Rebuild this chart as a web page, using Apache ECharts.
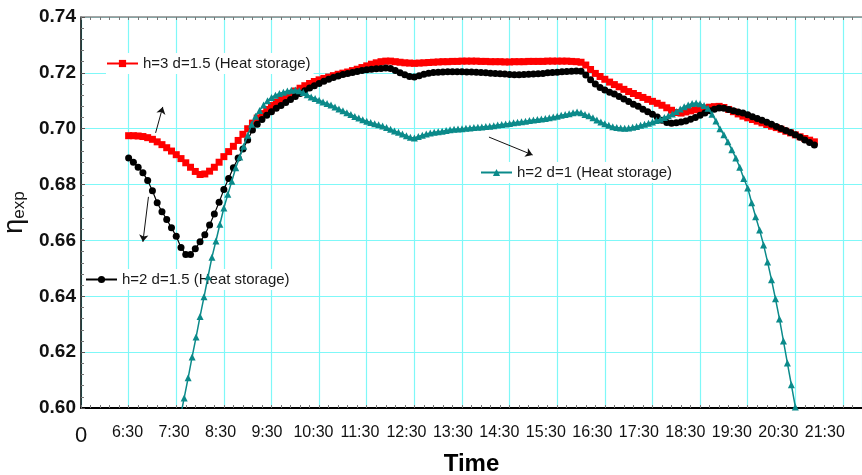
<!DOCTYPE html>
<html>
<head>
<meta charset="utf-8">
<title>eta exp vs time</title>
<script src="https://cdn.jsdelivr.net/npm/echarts@6/dist/echarts.min.js"></script>
<style>
  html, body { margin: 0; padding: 0; background: #fff; }
  #chart { width: 862px; height: 475px; }
</style>
</head>
<body>
<div id="chart"></div>
<script>
// x values are minutes after 5:30 (the axis origin, labelled "0")
const TIME_LABELS = ['0', '6:30', '7:30', '8:30', '9:30', '10:30', '11:30', '12:30', '13:30',
  '14:30', '15:30', '16:30', '17:30', '18:30', '19:30', '20:30', '21:30'];
const Y_TICKS = [0.60, 0.62, 0.64, 0.66, 0.68, 0.70, 0.72, 0.74];

const NAME_RED = 'h=3 d=1.5 (Heat storage)';
const NAME_BLACK = 'h=2 d=1.5 (Heat storage)';
const NAME_TEAL = 'h=2 d=1 (Heat storage)';

// red + black sampled every 6 min from 6:30, teal every 5 min from 7:35
const RED_START = 60, RED_STEP = 6;
const BLACK_START = 60, BLACK_STEP = 6;
const TEAL_START = 125, TEAL_STEP = 5;

const redVals = [0.6975,0.6975,0.6974,0.6972,0.6968,0.6962,0.6953,0.6943,0.6932,0.6920,
  0.6907,0.6893,0.6878,0.6862,0.6847,0.6836,0.6838,0.6848,0.6862,0.6880,
  0.6900,0.6918,0.6937,0.6958,0.6980,0.7000,0.7020,0.7038,0.7054,0.7069,
  0.7083,0.7095,0.7105,0.7115,0.7125,0.7135,0.7145,0.7154,0.7162,0.7169,
  0.7175,0.7180,0.7185,0.7190,0.7195,0.7199,0.7203,0.7208,0.7213,0.7219,
  0.7225,0.7231,0.7236,0.7240,0.7242,0.7242,0.7240,0.7238,0.7236,0.7235,
  0.7234,0.7235,0.7236,0.7237,0.7238,0.7239,0.7240,0.7240,0.7241,0.7241,
  0.7242,0.7242,0.7242,0.7242,0.7241,0.7241,0.7240,0.7240,0.7240,0.7239,
  0.7239,0.7240,0.7240,0.7240,0.7241,0.7241,0.7241,0.7241,0.7242,0.7242,
  0.7242,0.7242,0.7242,0.7241,0.7240,0.7238,0.7228,0.7212,0.7198,0.7187,
  0.7177,0.7167,0.7158,0.7150,0.7141,0.7133,0.7126,0.7119,0.7112,0.7105,
  0.7098,0.7091,0.7084,0.7075,0.7066,0.7058,0.7056,0.7060,0.7064,0.7068,
  0.7071,0.7074,0.7077,0.7079,0.7080,0.7076,0.7069,0.7061,0.7053,0.7045,
  0.7039,0.7033,0.7027,0.7021,0.7015,0.7009,0.7004,0.6998,0.6991,0.6985,
  0.6978,0.6971,0.6965,0.6959,0.6953];

const blackVals = [0.6895,0.6880,0.6862,0.6842,0.6815,0.6778,0.6735,0.6703,0.6675,0.6645,
  0.6615,0.6575,0.6550,0.6550,0.6570,0.6595,0.6620,0.6655,0.6695,0.6737,
  0.6782,0.6822,0.6860,0.6895,0.6927,0.6960,0.6995,0.7016,0.7033,0.7048,
  0.7061,0.7073,0.7083,0.7094,0.7105,0.7115,0.7126,0.7136,0.7146,0.7154,
  0.7162,0.7170,0.7177,0.7183,0.7189,0.7194,0.7198,0.7201,0.7205,0.7208,
  0.7211,0.7213,0.7215,0.7216,0.7217,0.7216,0.7208,0.7200,0.7193,0.7187,
  0.7185,0.7190,0.7195,0.7199,0.7201,0.7202,0.7203,0.7204,0.7204,0.7204,
  0.7204,0.7203,0.7203,0.7202,0.7201,0.7200,0.7199,0.7198,0.7197,0.7196,
  0.7194,0.7193,0.7193,0.7194,0.7195,0.7196,0.7197,0.7198,0.7200,0.7201,
  0.7202,0.7204,0.7205,0.7206,0.7207,0.7206,0.7192,0.7175,0.7160,0.7148,
  0.7139,0.7131,0.7124,0.7115,0.7106,0.7097,0.7088,0.7080,0.7070,0.7061,
  0.7052,0.7042,0.7030,0.7022,0.7020,0.7021,0.7024,0.7028,0.7034,0.7040,
  0.7048,0.7056,0.7064,0.7070,0.7074,0.7073,0.7069,0.7064,0.7060,0.7056,
  0.7050,0.7043,0.7037,0.7030,0.7023,0.7016,0.7008,0.7001,0.6994,0.6986,
  0.6978,0.6969,0.6960,0.6951,0.6942];

const tealVals = [0.5965,0.6036,0.6108,0.6183,0.6254,0.6328,0.6398,0.6470,0.6540,0.6598,
  0.6658,0.6716,0.6765,0.6812,0.6860,0.6899,0.6937,0.6977,0.7016,0.7045,
  0.7065,0.7085,0.7100,0.7112,0.7120,0.7126,0.7131,0.7135,0.7138,0.7139,
  0.7136,0.7130,0.7122,0.7114,0.7108,0.7102,0.7096,0.7090,0.7085,0.7078,
  0.7071,0.7064,0.7057,0.7051,0.7044,0.7038,0.7032,0.7027,0.7022,0.7018,
  0.7014,0.7010,0.7004,0.6998,0.6992,0.6987,0.6981,0.6975,0.6969,0.6967,
  0.6972,0.6977,0.6981,0.6985,0.6987,0.6989,0.6991,0.6994,0.6996,0.6998,
  0.6999,0.7000,0.7002,0.7003,0.7004,0.7005,0.7006,0.7008,0.7009,0.7011,
  0.7013,0.7015,0.7017,0.7019,0.7021,0.7023,0.7025,0.7027,0.7029,0.7031,
  0.7033,0.7035,0.7037,0.7039,0.7042,0.7045,0.7048,0.7051,0.7054,0.7057,
  0.7060,0.7057,0.7051,0.7046,0.7039,0.7031,0.7024,0.7018,0.7012,0.7007,
  0.7004,0.7003,0.7002,0.7003,0.7005,0.7008,0.7012,0.7016,0.7020,0.7024,
  0.7029,0.7034,0.7040,0.7046,0.7053,0.7062,0.7071,0.7079,0.7085,0.7090,
  0.7092,0.7089,0.7083,0.7073,0.7052,0.7028,0.7000,0.6978,0.6953,0.6925,
  0.6895,0.6862,0.6822,0.6788,0.6735,0.6685,0.6637,0.6584,0.6523,0.6459,
  0.6391,0.6319,0.6240,0.6161,0.6083,0.6004];

// annotation arrows [x1, y1, x2, y2] in axis units
const ARROW_RED = [94, 0.6985, 103, 0.7078];
const ARROW_BLACK = [85, 0.6756, 78, 0.6595];
const ARROW_TEAL = [514, 0.6970, 569, 0.6906];

const FONT = "'Liberation Sans', Arial, sans-serif";
const GRID_CYAN = '#7ff8f8';

function pairs(vals, start, step) {
  return vals.map((v, i) => [start + i * step, v]);
}

function arrow(a) {
  return {
    silent: true,
    symbol: ['none', 'arrow'],
    symbolSize: 7,
    lineStyle: { color: '#111', width: 1, type: 'solid' },
    label: { show: false },
    emphasis: { disabled: true },
    data: [[{ coord: [a[0], a[1]] }, { coord: [a[2], a[3]] }]]
  };
}

function legendAt(name, left, top) {
  return {
    data: [name],
    left: left,
    top: top,
    orient: 'horizontal',
    itemWidth: 31,
    itemHeight: 9,
    padding: [3, 3, 3, 0],
    backgroundColor: '#fff',
    z: 1,
    selectedMode: false,
    textStyle: { fontFamily: FONT, fontSize: 15, color: '#1a1a1a' }
  };
}

const chart = echarts.init(document.getElementById('chart'), null, { renderer: 'canvas' });

const option = {
  animation: false,
  backgroundColor: '#fff',
  grid: { left: 81, right: 0, top: 17, bottom: 67, containLabel: false, outerBoundsMode: 'none' },
  legend: [
    legendAt(NAME_RED, 106, 53),
    legendAt(NAME_BLACK, 85, 269),
    legendAt(NAME_TEAL, 480, 162)
  ],
  xAxis: [
    { // ticks + grid
      type: 'value', position: 'bottom', min: 0, max: 984, interval: 60,
      axisLine: { onZero: false, lineStyle: { color: '#000', width: 2 } },
      axisTick: { inside: true, length: 3, lineStyle: { color: '#777' } },
      minorTick: { show: true, splitNumber: 5, length: 3, lineStyle: { color: '#777' } },
      splitLine: { show: true, lineStyle: { color: GRID_CYAN, width: 1.2 } },
      axisLabel: { show: false }
    },
    { // tick labels (slightly tighter spacing than the grid in the original)
      type: 'value', position: 'bottom', min: 0, max: 1008, interval: 60,
      axisLine: { show: false }, axisTick: { show: false }, splitLine: { show: false },
      axisLabel: {
        margin: 17,
        fontFamily: FONT, fontSize: 16, color: '#111',
        formatter: v => {
          const s = TIME_LABELS[Math.round(v / 60)];
          return v === 0 ? '{z|' + s + '}' : (s || '');
        },
        rich: { z: { fontFamily: FONT, fontSize: 22, color: '#111' } }
      },
      name: 'Time', nameLocation: 'middle', nameGap: 43,
      nameTextStyle: { fontFamily: FONT, fontSize: 24, fontWeight: 'bold', color: '#000' }
    },
    { // top frame
      type: 'value', position: 'top', min: 0, max: 984, interval: 60,
      axisLine: { onZero: false, lineStyle: { color: '#888', width: 1.5 } },
      axisTick: { inside: true, length: 3, lineStyle: { color: '#777' } },
      minorTick: { show: true, splitNumber: 5, length: 3, lineStyle: { color: '#777' } },
      splitLine: { show: false }, axisLabel: { show: false }
    }
  ],
  yAxis: {
    type: 'value', min: Y_TICKS[0], max: Y_TICKS[Y_TICKS.length - 1], interval: 0.02,
    axisLine: { show: true, onZero: false, lineStyle: { color: '#000', width: 1.5 } },
    axisTick: { inside: true, length: 4, lineStyle: { color: '#555' } },
    minorTick: { show: true, splitNumber: 5, length: 3, lineStyle: { color: '#777' } },
    splitLine: { show: true, lineStyle: { color: GRID_CYAN, width: 1.2 } },
    axisLabel: {
      margin: 5, fontFamily: FONT, fontSize: 19, fontWeight: 'bold', color: '#111',
      formatter: v => v.toFixed(2)
    },
    name: '{a|η}{b|exp}', nameLocation: 'middle', nameRotate: 90, nameGap: 52,
    nameTextStyle: {
      rich: {
        a: { fontFamily: FONT, fontSize: 27, color: '#111', verticalAlign: 'bottom' },
        b: { fontFamily: FONT, fontSize: 17, color: '#111', verticalAlign: 'bottom' }
      }
    }
  },
  series: [
    {
      name: NAME_RED, type: 'line', xAxisIndex: 0, z: 2,
      data: pairs(redVals, RED_START, RED_STEP),
      symbol: 'rect', symbolSize: 7, showAllSymbol: true,
      itemStyle: { color: '#ff0000' },
      lineStyle: { color: '#ff0000', width: 1.2 },
      markLine: arrow(ARROW_RED)
    },
    {
      name: NAME_BLACK, type: 'line', xAxisIndex: 0, z: 3,
      data: pairs(blackVals, BLACK_START, BLACK_STEP),
      symbol: 'circle', symbolSize: 7, showAllSymbol: true,
      itemStyle: { color: '#000' },
      lineStyle: { color: '#000', width: 1.2 },
      markLine: arrow(ARROW_BLACK)
    },
    {
      name: NAME_TEAL, type: 'line', xAxisIndex: 0, z: 4, clip: true,
      data: pairs(tealVals, TEAL_START, TEAL_STEP),
      symbol: 'triangle', symbolSize: 7, showAllSymbol: true,
      itemStyle: { color: '#0b8a8a' },
      lineStyle: { color: '#0b8a8a', width: 1.5 },
      markLine: arrow(ARROW_TEAL)
    }
  ]
};

chart.setOption(option);
</script>
</body>
</html>
